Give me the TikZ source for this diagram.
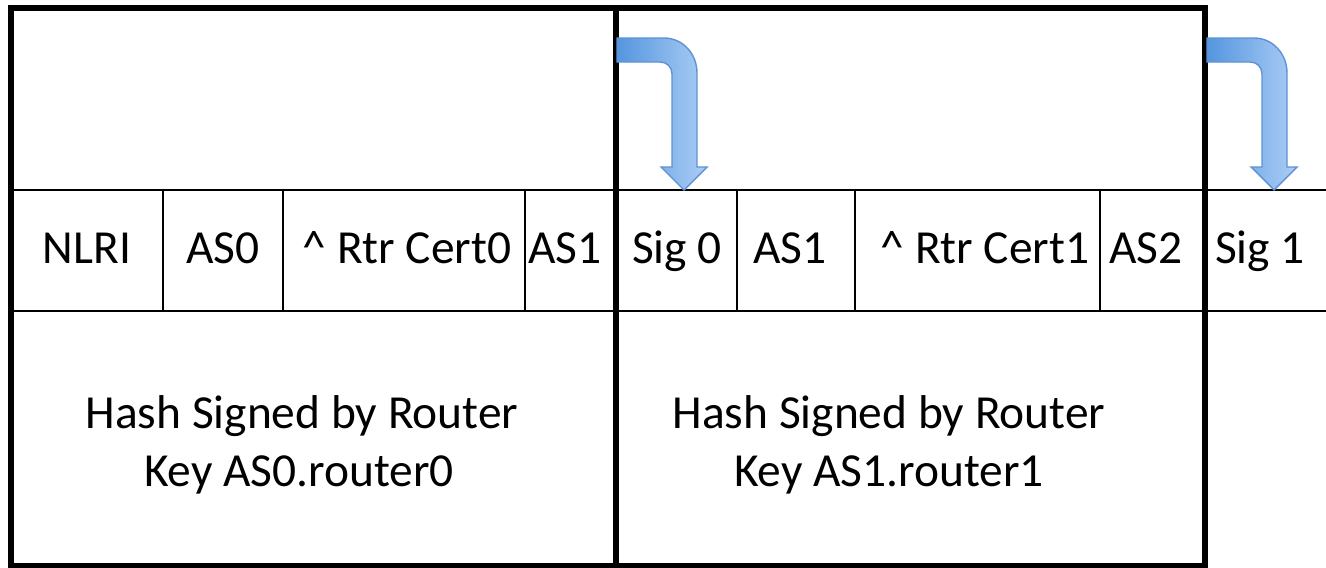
\documentclass[tikz,border=0pt]{standalone}
\usepackage{fontspec}
\setmainfont{Carlito}
\definecolor{arrowdark}{RGB}{84,150,222}
\definecolor{arrowlight}{RGB}{172,206,245}
\definecolor{arrowedge}{RGB}{95,145,212}

\begin{document}
\begin{tikzpicture}[x=0.02cm, y=-0.02cm]
    \tikzstyle{every node} = [font=\fontsize{27}{32}\selectfont, inner sep=0pt]
    \tikzstyle{field} = [anchor=base]
    \tikzstyle{thin} = [line width=1.2pt]
    \tikzstyle{heavy} = [line width=3.5pt]
    \tikzstyle{bent} = [draw=arrowedge, line width=0.8pt, left color=arrowdark, right color=arrowlight]
    \useasboundingbox (0,0) rectangle (1326,568);

    % the row of fields
    \draw[thin] (11,190) -- (1326,190);
    \draw[thin] (11,311) -- (1326,311);
    \foreach \x in {163,283,525,737,855,1100}
        \draw[thin] (\x,190) -- (\x,311);

    \node[field] (nlri) at (87,263) {NLRI};
    \node[field] (aszero) at (223,263) {AS0};
    \node[field] (certzero) at (407,263) {\^{} Rtr Cert0};
    \node[field] (asone) at (565,263) {AS1};
    \node[field] (sigzero) at (677,263) {Sig 0};
    \node[field] (asonebis) at (790,263) {AS1};
    \node[field] (certone) at (985,263) {\^{} Rtr Cert1};
    \node[field] (astwo) at (1146,263) {AS2};
    \node[field] (sigone) at (1260,263) {Sig 1};

    % the two signed blocks
    \draw[heavy] (11,8) rectangle (616,566);
    \draw[heavy] (616,8) rectangle (1205,566);

    \node[field] (hashzero) at (302,428) {Hash Signed by Router};
    \node[field] (keyzero) at (299,486) {Key AS0.router0};
    \node[field] (hashone) at (889,428) {Hash Signed by Router};
    \node[field] (keyone) at (889,486) {Key AS1.router1};

    % bent arrows
    \foreach \o in {617,1207}
        \path[bent] (\o,38) -- (\o+47,38)
            .. controls (\o+66,38) and (\o+80,54) .. (\o+80,73)
            -- (\o+80,167) -- (\o+90,167) -- (\o+67,190) -- (\o+44,167) -- (\o+55,167)
            -- (\o+55,74) .. controls (\o+55,67) and (\o+50,62) .. (\o+43,62)
            -- (\o,62) -- cycle;
\end{tikzpicture}
\end{document}
